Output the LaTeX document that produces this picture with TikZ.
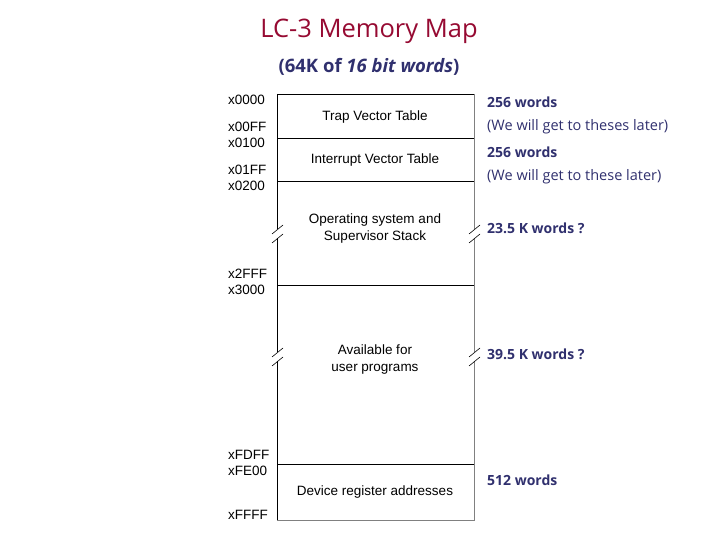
\documentclass[tikz,border=0pt]{standalone}
\usepackage{fontspec}
\setmainfont{Liberation Sans}
\newfontfamily\notefont{Open Sans}
\usepackage{tikz}
\definecolor{titlered}{RGB}{150,10,50}
\definecolor{notenavy}{RGB}{48,48,110}
\tikzset{
  addr/.style={anchor=west, inner sep=0pt, font=\fontsize{13.5}{15}\selectfont},
  region/.style={align=center, inner sep=0pt, font=\fontsize{13.5}{17}\selectfont},
  note/.style={anchor=west, inner sep=0pt, text=notenavy, font=\notefont\fontsize{14.5}{16}\selectfont},
  boldnote/.style={note, font=\notefont\bfseries\fontsize{14}{16}\selectfont},
  breakmark/.style={line width=0.6pt}
}
\begin{document}
\begin{tikzpicture}[x=1pt, y=-1pt]
    \useasboundingbox (0,0) rectangle (720,540);

    % Titol i subtitol
    \node (title) at (369,31) {\notefont\color{titlered}\fontsize{25.5}{30}\selectfont LC-3 Memory Map};
    \node (subtitle) at (369,67) {\notefont\bfseries\color{notenavy}\fontsize{18.5}{22}\selectfont (64K of \textit{16 bit words})};

    % Contorn del mapa de memoria
    \draw[black] (277,94) -- (474,94);
    \draw[black] (277,94) -- (277,229);
    \draw[black] (277,238) -- (277,352);
    \draw[black] (277,361) -- (277,520);
    \draw[gray, line width=0.8pt] (474,94) -- (474,229);
    \draw[gray, line width=0.8pt] (474,238) -- (474,352);
    \draw[gray, line width=0.8pt] (474,361) -- (474,520) -- (277,520);

    % Separacions entre regions
    \foreach \y in {138,181,285,464}
        \draw (277,\y) -- (474,\y);

    % Marques de tall (dues barres)
    \foreach \x in {277,474}
        \foreach \y in {233,356} {
            \draw[breakmark] (\x-5,\y+1) -- (\x+6,\y-8);
            \draw[breakmark] (\x-5,\y+10) -- (\x+6,\y+1);
        }

    % Adreces
    \node[addr] (a0000) at (228,100) {x0000};
    \node[addr] (a00FF) at (228,127) {x00FF};
    \node[addr] (a0100) at (228,143) {x0100};
    \node[addr] (a01FF) at (228,170) {x01FF};
    \node[addr] (a0200) at (228,186) {x0200};
    \node[addr] (a2FFF) at (228,274) {x2FFF};
    \node[addr] (a3000) at (228,290) {x3000};
    \node[addr] (aFDFF) at (228,455) {xFDFF};
    \node[addr] (aFE00) at (228,471) {xFE00};
    \node[addr] (aFFFF) at (228,515) {xFFFF};

    % Regions
    \node[region] (trap) at (375,117) {Trap Vector Table};
    \node[region] (intr) at (375,160) {Interrupt Vector Table};
    \node[region] (os) at (375,229) {Operating system and\\Supervisor Stack};
    \node[region] (user) at (375,360) {Available for\\user programs};
    \node[region] (dev) at (375,492) {Device register addresses};

    % Notes de la dreta
    \node[boldnote] (n1) at (487,102) {256 words};
    \node[note] (n2) at (487,127) {(We will get to theses later)};
    \node[boldnote] (n3) at (487,152) {256 words};
    \node[note] (n4) at (487,177) {(We will get to these later)};
    \node[boldnote] (n5) at (487,228) {23.5 K words ?};
    \node[boldnote] (n6) at (487,354) {39.5 K words ?};
    \node[boldnote] (n7) at (487,480) {512 words};
\end{tikzpicture}
\end{document}
